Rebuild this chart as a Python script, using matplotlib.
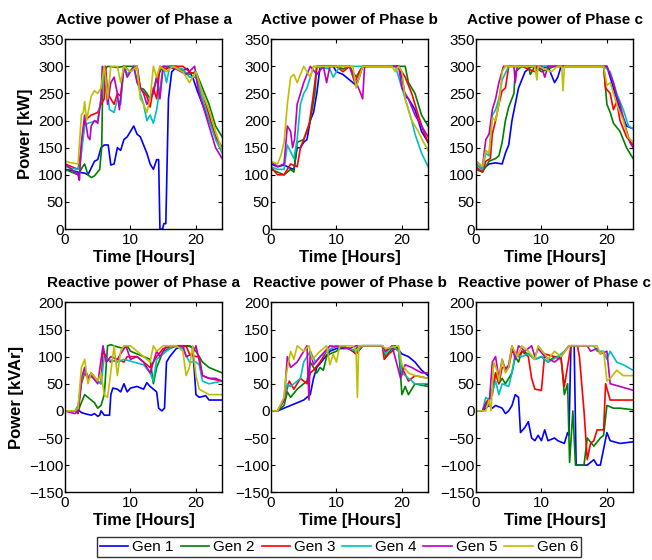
import matplotlib
matplotlib.use("Agg")
import matplotlib.pyplot as plt

plt.rcParams['font.family'] = ['Liberation Sans', 'DejaVu Sans']

gen_names = ['Gen 1', 'Gen 2', 'Gen 3', 'Gen 4', 'Gen 5', 'Gen 6']
gen_colors = ['#0000ff', '#008000', '#ff0000', '#00bfbf', '#bf00bf', '#bfbf00']

# ---- active power, phase a (hour, kW)
act_a_gen1 = [(0, 110), (1, 108), (2, 105), (3, 103), (3.5, 100), (4.5, 125), (5, 128), (5.5, 150), (6, 155), (6.6, 155),
              (7, 118), (7.5, 120), (8, 150), (8.5, 145), (9, 165), (9.5, 170), (10, 180), (10.5, 190), (11, 175),
              (11.5, 170), (12, 155), (12.5, 140), (13, 120), (13.5, 110), (14, 128), (14.3, 128), (14.5, 0),
              (14.9, 0), (15.1, 10), (15.4, 10), (15.8, 240), (16.3, 290), (17, 298), (18, 292), (18.7, 296),
              (19.5, 280), (20.2, 255), (21, 230), (22, 200), (23, 170), (24, 150)]
act_a_gen2 = [(0, 110), (1, 105), (2, 100), (2.7, 115), (3, 120), (3.5, 100), (4, 95), (4.5, 98), (5.3, 110),
              (5.6, 150), (5.8, 290), (6.5, 300), (8, 298), (9, 300), (11, 300), (11.5, 260), (12, 258), (12.5, 250),
              (13, 240), (13.5, 255), (14, 280), (15, 300), (17, 300), (18, 290), (19, 285), (20, 290), (21, 260),
              (22, 230), (23, 190), (24, 170)]
act_a_gen3 = [(0, 120), (1, 115), (2, 110), (2.5, 150), (3, 200), (3.5, 205), (4, 210), (5, 215), (5.5, 230),
              (6, 240), (6.2, 300), (6.5, 250), (7, 240), (7.5, 230), (8, 250), (8.5, 245), (9, 300), (10, 290),
              (11, 300), (11.5, 260), (12.5, 245), (13, 225), (13.5, 260), (14, 240), (14.5, 300), (15.5, 295),
              (16, 300), (18, 300), (19, 290), (20, 285), (21, 250), (22, 210), (23, 170), (24, 150)]
act_a_gen4 = [(0, 115), (1, 112), (2, 110), (2.3, 120), (3, 190), (3.5, 195), (5, 200), (5.5, 240), (6, 300),
              (6.8, 220), (7.5, 215), (8, 240), (8.5, 230), (9, 300), (9.5, 285), (10.5, 300), (11.5, 250),
              (12, 230), (12.5, 200), (13, 210), (13.5, 195), (14, 220), (15, 300), (15.5, 270), (16, 300),
              (18, 295), (19, 280), (20, 280), (21, 240), (22, 200), (23, 165), (24, 140)]
act_a_gen5 = [(0, 120), (1, 110), (2, 100), (2.2, 90), (2.5, 160), (3, 210), (3.5, 170), (3.8, 165), (4, 190),
              (4.5, 200), (5, 195), (5.5, 240), (5.7, 300), (6, 290), (6.5, 230), (7, 270), (7.5, 280), (8, 250),
              (8.3, 220), (9, 300), (9.5, 280), (10.5, 300), (11, 270), (12, 250), (12.5, 230), (13.5, 250),
              (14, 280), (14.5, 240), (15, 300), (17, 295), (18.5, 285), (19.8, 300), (20.3, 260), (21, 230),
              (22, 190), (23, 150), (24, 130)]
act_a_gen6 = [(0, 125), (1, 122), (2, 120), (2.5, 210), (2.8, 215), (3, 235), (3.3, 200), (4, 245), (4.5, 255),
              (5, 250), (5.5, 260), (6, 300), (6.5, 240), (7, 300), (8, 300), (8.5, 270), (9, 300), (10, 290),
              (11, 300), (11.5, 240), (12, 230), (12.5, 215), (13, 240), (13.5, 300), (14, 280), (14.5, 300),
              (15.5, 290), (16.5, 300), (18, 290), (19, 270), (20, 290), (21, 250), (22, 220), (23, 180), (24, 145)]

# ---- active power, phase b
act_b_gen1 = [(0, 120), (1, 115), (2, 118), (3, 112), (3.5, 110), (4, 150), (4.5, 150), (5, 160), (5.5, 165),
              (6, 200), (6.5, 215), (7, 250), (7.5, 300), (9.5, 300), (10, 290), (11, 285), (12, 275), (12.5, 270),
              (13, 265), (13.5, 280), (14, 300), (19.5, 300), (20, 280), (20.5, 245), (21, 240), (22, 220),
              (23, 180), (24, 160)]
act_b_gen2 = [(0, 110), (1, 105), (2, 100), (3, 110), (3.5, 105), (4, 160), (5, 165), (6, 200), (6.7, 250),
              (7, 300), (10, 300), (11, 295), (12, 300), (13, 280), (14, 300), (19.5, 300), (20.5, 300), (21, 270),
              (22, 250), (23, 210), (24, 190)]
act_b_gen3 = [(0, 115), (1, 100), (2, 100), (3, 120), (4, 115), (4.5, 150), (5, 165), (5.8, 190), (6.5, 250),
              (7, 300), (10, 300), (11, 290), (12, 300), (12.8, 270), (13.5, 290), (14, 300), (19.5, 300),
              (20.5, 280), (21.5, 250), (22.5, 210), (23.3, 180), (24, 160)]
act_b_gen4 = [(0, 115), (1, 110), (2, 110), (2.5, 155), (3.5, 130), (4, 165), (4.5, 230), (5, 250), (5.5, 260),
              (6.5, 300), (9, 295), (9.5, 280), (10.5, 300), (13, 300), (19, 300), (20, 260), (20.5, 240),
              (21.5, 200), (22, 175), (23, 140), (24, 115)]
act_b_gen5 = [(0, 125), (1, 115), (2, 120), (2.5, 190), (3, 180), (3.3, 150), (3.6, 165), (4, 230), (5, 270),
              (6, 300), (7, 285), (8, 300), (8.5, 270), (9, 300), (12, 300), (13.7, 250), (14, 240), (14.3, 300),
              (19.5, 300), (20, 260), (21, 240), (22, 210), (23, 190), (24, 170)]
act_b_gen6 = [(0, 125), (1, 120), (1.5, 135), (2, 160), (2.5, 230), (3, 280), (3.5, 285), (4, 270), (5, 300),
              (6, 280), (6.5, 300), (12.5, 300), (13, 260), (14, 300), (18.5, 300), (19, 290), (19.5, 300),
              (20, 290), (20.5, 240), (21.5, 200), (22.5, 180), (23.3, 160), (24, 145)]

# ---- active power, phase c
act_c_gen1 = [(0, 120), (1, 110), (2, 120), (3, 122), (4, 120), (4.5, 140), (5, 155), (5.5, 200), (6, 230),
              (6.5, 260), (7.5, 290), (8.5, 300), (10, 295), (11, 300), (12, 270), (12.5, 280), (13, 300),
              (20, 300), (21, 260), (22, 220), (23, 190), (24, 185)]
act_c_gen2 = [(0, 110), (1, 105), (2, 125), (3, 130), (3.5, 135), (4, 160), (4.5, 200), (5, 225), (5.8, 250),
              (6, 290), (7, 300), (8, 300), (8.3, 285), (9, 300), (10, 290), (11, 295), (12, 300), (19.5, 300),
              (20, 230), (20.5, 215), (21, 195), (22, 180), (23, 150), (24, 130)]
act_c_gen3 = [(0, 115), (1, 105), (1.5, 125), (2.2, 130), (2.5, 175), (3, 200), (3.5, 230), (4, 255), (4.5, 260),
              (5, 300), (7, 300), (9, 290), (10, 300), (13, 300), (19.5, 300), (19.8, 260), (20.5, 250), (21, 220),
              (21.5, 235), (22, 200), (23, 170), (24, 155)]
act_c_gen4 = [(0, 120), (1, 110), (1.5, 140), (2, 135), (2.5, 210), (3, 220), (3.5, 240), (4, 275), (5, 300),
              (19.5, 300), (20.5, 290), (21.5, 250), (22.5, 220), (23.3, 190), (24, 185)]
act_c_gen5 = [(0, 125), (1, 115), (1.5, 165), (2, 175), (2.5, 220), (3, 240), (3.5, 270), (4.2, 300), (5.8, 300),
              (6, 270), (6.3, 300), (10, 300), (10.5, 280), (11, 300), (20, 300), (21, 270), (21.5, 245), (22, 230),
              (22.8, 190), (23.5, 160), (24, 150)]
act_c_gen6 = [(0, 125), (1, 115), (1.5, 145), (2, 140), (2.5, 205), (3, 200), (3.5, 230), (4, 290), (4.5, 300),
              (9, 300), (9.3, 275), (9.5, 300), (11.5, 290), (12.5, 300), (13.1, 300), (13.3, 255), (13.5, 300),
              (19.5, 300), (20, 265), (20.5, 270), (21.5, 230), (22.5, 200), (23.2, 170), (24, 160)]

# ---- reactive power, phase a (hour, kVAr)
rea_a_gen1 = [(0, 0), (1.5, 0), (2, 2), (2.5, -3), (3, -5), (4, -8), (4.5, -5), (5, -10), (5.3, -8), (5.5, 0),
              (6, -8), (6.8, -8), (7, 30), (7.3, 42), (8, 40), (8.5, 35), (9, 50), (9.5, 35), (10, 42), (11, 45),
              (12, 40), (12.5, 52), (13, 45), (13.5, 40), (14, 35), (14.3, 5), (14.8, 0), (15.2, 5), (15.5, 90),
              (16, 100), (17, 115), (18.5, 120), (19.5, 118), (20, 30), (20.5, 25), (21.5, 28), (22, 20), (24, 20)]
rea_a_gen2 = [(0, 0), (1.5, 0), (2, 0), (2.5, 15), (3, 30), (3.5, 25), (4, 20), (4.5, 15), (5, 5), (5.5, 10),
              (6, 30), (6.5, 120), (7, 122), (8, 118), (9, 115), (9.5, 120), (10, 110), (11, 105), (12, 100),
              (13, 95), (13.5, 50), (14, 80), (15, 110), (16, 115), (17, 120), (18, 118), (19, 120), (19.5, 115),
              (20, 110), (21, 90), (22, 80), (23, 75), (24, 70)]
rea_a_gen3 = [(0, 0), (1.5, 0), (2, -5), (2.5, 50), (3, 70), (3.5, 60), (4, 70), (5, 55), (5.5, 50), (5.8, 110),
              (6.5, 95), (7, 90), (8, 95), (9, 90), (9.5, 100), (11, 100), (12, 90), (13, 80), (14, 100), (15, 115),
              (17, 120), (18.5, 120), (19, 105), (20, 100), (20.5, 100), (21, 65), (22, 60), (24, 55)]
rea_a_gen4 = [(0, 0), (1.5, 0), (2, 10), (2.5, 55), (3, 75), (3.5, 65), (4.5, 60), (5.5, 50), (6, 100), (6.5, 95),
              (8, 90), (9, 95), (10.5, 90), (12, 85), (13, 70), (13.5, 55), (14, 95), (15, 105), (16.5, 120),
              (18, 115), (19, 90), (20, 90), (20.5, 85), (21, 55), (22, 50), (24, 55)]
rea_a_gen5 = [(0, 0), (1.5, -5), (2, 0), (2.5, 60), (3, 80), (3.5, 60), (4, 65), (5, 50), (5.8, 120), (6.3, 90),
              (7, 100), (8, 95), (8.5, 105), (9.3, 120), (10, 95), (11, 100), (12, 90), (13, 70), (14, 110),
              (14.5, 100), (15.5, 120), (18, 120), (18.5, 100), (19.5, 105), (20, 120), (21, 65), (22, 60),
              (23, 60), (24, 55)]
rea_a_gen6 = [(0, 0), (1.5, 0), (2, 5), (2.5, 80), (3, 95), (3.5, 50), (4, 70), (5, 55), (5.5, 70), (6, 30),
              (6.5, 25), (7.5, 120), (8, 65), (8.5, 110), (9, 120), (10, 120), (11, 110), (12, 100), (13, 90),
              (13.5, 120), (14, 110), (15, 120), (17, 120), (18, 110), (18.5, 65), (19, 80), (19.5, 120), (20, 65),
              (20.5, 40), (22, 30), (24, 30)]

# ---- reactive power, phase b
rea_b_gen1 = [(0, 0), (1, 0), (2, 5), (3, 10), (4, 15), (5, 20), (6, 30), (6.5, 60), (7, 80), (8, 95), (9, 110),
              (10, 115), (12, 115), (13, 105), (14, 120), (17, 120), (17.5, 110), (18.5, 118), (19, 120),
              (20, 105), (21, 100), (22, 90), (23, 75), (24, 65)]
rea_b_gen2 = [(0, 0), (1, 0), (2, 10), (2.5, 35), (3, 25), (4, 40), (5, 50), (5.5, 55), (6, 90), (7, 70),
              (7.5, 80), (8, 75), (8.5, 100), (9, 105), (10, 110), (11, 120), (12.5, 110), (13.5, 120), (17, 120),
              (17.5, 100), (18.5, 115), (19.5, 115), (20, 30), (20.5, 45), (21, 30), (22, 50), (24, 45)]
rea_b_gen3 = [(0, 0), (1, 0), (2, 20), (2.8, 55), (3.5, 40), (4.5, 60), (5.5, 50), (6, 70), (6.5, 75), (7.5, 90),
              (8.5, 110), (10, 120), (12, 115), (13, 105), (14, 120), (17, 120), (17.3, 95), (18, 105), (19, 115),
              (19.5, 110), (20, 80), (21, 55), (22, 65), (24, 60)]
rea_b_gen4 = [(0, 0), (1, 0), (2, 20), (2.5, 50), (3, 45), (4.5, 60), (5, 90), (5.5, 100), (6, 110), (6.8, 90),
              (7.5, 100), (8.5, 110), (10, 120), (12, 115), (13, 110), (14, 120), (17, 120), (17.5, 105),
              (18.5, 120), (19.5, 110), (20, 70), (21, 60), (22, 50), (24, 50)]
rea_b_gen5 = [(0, 0), (1, 0), (2, 20), (2.5, 100), (3, 80), (4, 90), (5, 110), (5.5, 120), (5.8, 20), (6, 110),
              (6.5, 85), (7.5, 100), (9, 120), (12, 115), (13, 120), (17, 120), (17.5, 110), (18.5, 120),
              (19.8, 60), (20.5, 85), (21.5, 80), (23, 70), (24, 70)]
rea_b_gen6 = [(0, 0), (1, 0), (2, 25), (2.3, 65), (3, 110), (3.5, 95), (4, 120), (5, 110), (5.8, 120), (6.3, 95),
              (7.5, 110), (8.5, 120), (9, 85), (9.5, 105), (10, 90), (10.5, 120), (12.5, 120), (13, 110),
              (13.2, 25), (13.4, 120), (17, 120), (17.5, 115), (19.5, 120), (20, 85), (21, 70), (22, 65), (24, 60)]

# ---- reactive power, phase c
rea_c_gen1 = [(0, 0), (1, 0), (1.5, 5), (2, 10), (2.5, 5), (3, 10), (4, 5), (4.5, -5), (5, 0), (5.5, 10), (6, 30),
              (6.5, 25), (6.8, -40), (7.5, -30), (8, -20), (8.5, -50), (9, -55), (9.5, -45), (10, -55), (10.5, -35),
              (11, -55), (12, -50), (12.5, -55), (13.5, -60), (14, -40), (14.2, -45), (14.5, 120), (15, 120),
              (15.3, -100), (17, -100), (18, -90), (18.5, -100), (19, -100), (20, -40), (20.5, -55), (22, -60),
              (24, -57)]
rea_c_gen2 = [(0, 0), (1, 0), (1.5, 10), (2, 20), (2.5, 40), (3, 70), (3.5, 50), (4, 60), (4.5, 50), (5.5, 70),
              (6, 100), (6.5, 90), (7, 110), (8, 105), (9, 95), (10, 100), (11, 90), (12, 100), (13, 100),
              (13.5, 30), (14, 50), (14.3, -95), (14.8, 0), (15.2, -100), (16.5, -100), (17, -50), (18, -65),
              (19, -50), (19.5, -45), (20, 10), (21, 5), (22, 5), (24, 2)]
rea_c_gen3 = [(0, 0), (1, 0), (1.5, 15), (2.5, 30), (3, 70), (3.5, 50), (4, 80), (5, 80), (5.5, 110), (6.5, 100),
              (7, 110), (8, 100), (8.5, 60), (9, 40), (10, 38), (10.5, 105), (12, 100), (13, 95), (13.5, 45),
              (14.5, 120), (15.5, 120), (15.8, 100), (16.5, 0), (17, -90), (17.5, -60), (18, -55), (18.5, -35),
              (19.5, -35), (19.8, 50), (20.5, 20), (24, 20)]
rea_c_gen4 = [(0, 0), (1, 0), (1.5, 25), (2, 20), (2.5, 35), (3, 55), (3.5, 30), (4, 50), (5, 45), (5.5, 70),
              (6, 105), (7, 100), (8, 105), (9, 95), (10, 100), (11, 90), (12.5, 100), (13.5, 110), (14.2, 120),
              (18, 120), (18.5, 110), (19.5, 110), (20, 95), (20.5, 110), (21.5, 90), (22.5, 85), (24, 75)]
rea_c_gen5 = [(0, 0), (1, 0), (1.5, 15), (2, 10), (2.5, 90), (3, 100), (3.5, 60), (4, 95), (4.5, 75), (5, 85),
              (5.5, 120), (6, 95), (6.5, 120), (7.5, 110), (8.5, 120), (9, 100), (9.5, 115), (10.5, 100), (12, 90),
              (13, 100), (14.2, 120), (17, 120), (17.5, 110), (18.5, 115), (19, 105), (20, 110), (20.5, 50),
              (22, 45), (24, 38)]
rea_c_gen6 = [(0, 0), (1, 0), (1.5, 0), (2, 20), (2.3, 0), (2.7, 90), (3.2, 75), (3.5, 55), (4, 95), (4.5, 70),
              (5, 80), (5.5, 120), (6.3, 100), (7, 120), (8, 110), (9, 95), (9.5, 120), (10.5, 105), (11, 95),
              (12, 110), (13, 100), (14.2, 120), (18.5, 120), (19, 105), (19.5, 110), (20, 55), (20.5, 60),
              (21.5, 75), (22.5, 65), (24, 65)]

panels = [
    ('Active power of Phase a', [act_a_gen1, act_a_gen2, act_a_gen3, act_a_gen4, act_a_gen5, act_a_gen6]),
    ('Active power of Phase b', [act_b_gen1, act_b_gen2, act_b_gen3, act_b_gen4, act_b_gen5, act_b_gen6]),
    ('Active power of Phase c', [act_c_gen1, act_c_gen2, act_c_gen3, act_c_gen4, act_c_gen5, act_c_gen6]),
    ('Reactive power of Phase a', [rea_a_gen1, rea_a_gen2, rea_a_gen3, rea_a_gen4, rea_a_gen5, rea_a_gen6]),
    ('Reactive power of Phase b', [rea_b_gen1, rea_b_gen2, rea_b_gen3, rea_b_gen4, rea_b_gen5, rea_b_gen6]),
    ('Reactive power of Phase c', [rea_c_gen1, rea_c_gen2, rea_c_gen3, rea_c_gen4, rea_c_gen5, rea_c_gen6]),
]

fig = plt.figure(figsize=(6.52, 5.60), dpi=100)
lefts = [0.0997, 0.4156, 0.730]
bottoms = [0.591, 0.121]
w, h = 0.241, 0.339

lines = []
for i, (title, series) in enumerate(panels):
    row, col = divmod(i, 3)
    ax = fig.add_axes([lefts[col], bottoms[row], w, h])
    for pts, c, name in zip(series, gen_colors, gen_names):
        t = [p[0] for p in pts]
        v = [p[1] for p in pts]
        ln, = ax.plot(t, v, color=c, lw=1.2, label=name)
        if i == 0:
            lines.append(ln)
    ax.set_xlim(0, 24)
    ax.set_xticks([0, 10, 20])
    if row == 0:
        ax.set_ylim(0, 350)
        ax.set_yticks(range(0, 351, 50))
    else:
        ax.set_ylim(-150, 200)
        ax.set_yticks(range(-150, 201, 50))
    ax.tick_params(direction='in', top=True, right=True, labelsize=11, length=3)
    ax.tick_params(axis='x', pad=3)
    ax.tick_params(axis='y', pad=1)
    for s in ax.spines.values():
        s.set_linewidth(1.0)
    ax.set_title(title, fontsize=11, fontweight='bold', pad=11)
    ax.set_xlabel('Time [Hours]', fontsize=12, fontweight='bold', labelpad=2)
    if col == 0:
        ax.set_ylabel('Power [kW]' if row == 0 else 'Power [kVAr]', fontsize=12, fontweight='bold', labelpad=4)

leg = fig.legend(lines, gen_names, loc='center', bbox_to_anchor=(0.52, 0.0232), ncol=6, fontsize=11,
                 frameon=True, fancybox=False, edgecolor='black', handlelength=1.85, handletextpad=0.28,
                 columnspacing=0.45, borderpad=0.2, borderaxespad=0)
leg.get_frame().set_linewidth(1.0)

fig.savefig('out.png', dpi=100)
